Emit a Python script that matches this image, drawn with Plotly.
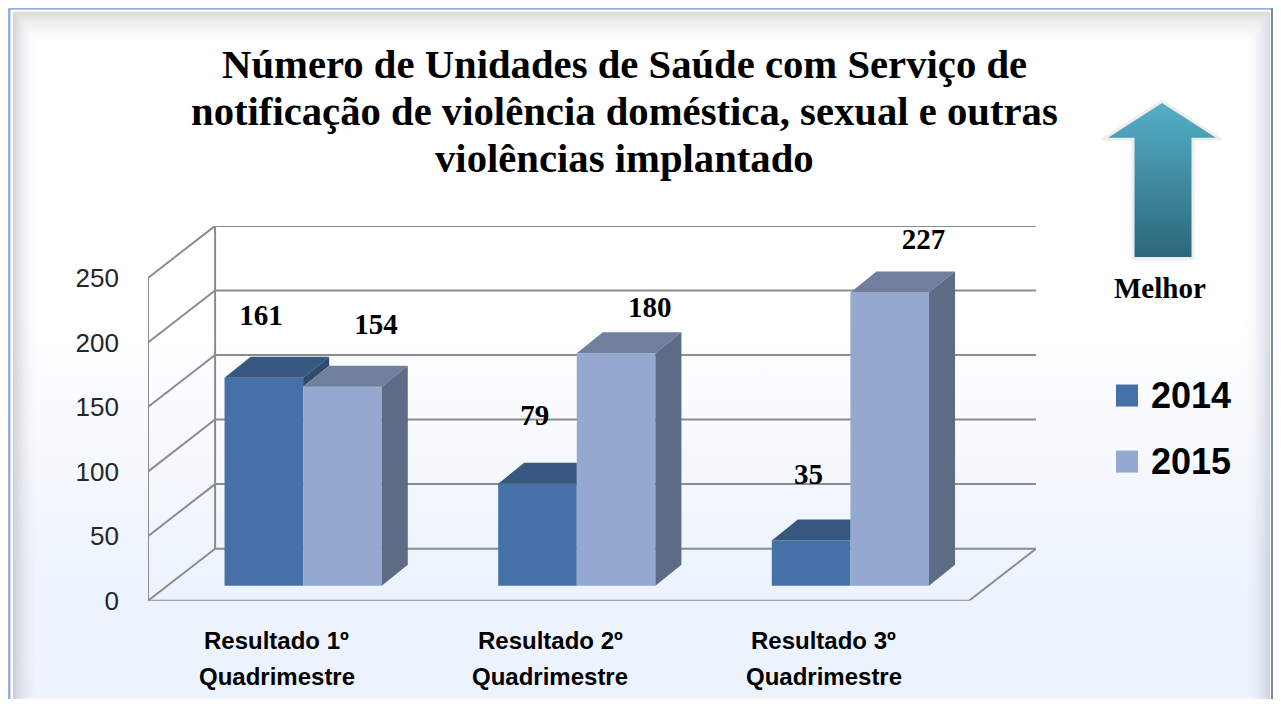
import plotly.graph_objects as go

# ---------------- data ----------------
title_lines = [
    "Número de Unidades de Saúde com Serviço de",
    "notificação de violência doméstica, sexual e outras",
    "violências implantado",
]
cat_line1 = ["Resultado 1º", "Resultado 2º", "Resultado 3º"]
cat_line2 = ["Quadrimestre", "Quadrimestre", "Quadrimestre"]
series_names = ["2014", "2015"]
values_2014 = [161, 79, 35]
values_2015 = [154, 180, 227]
y_ticks = [0, 50, 100, 150, 200, 250]
arrow_label = "Melhor"

# ---------------- style / geometry ----------------
PAGE_M = 8                       # default body margin of the html page
KY = 706 / 722                   # observed vertical scale of the photograph
W, H = 1281 - 2 * PAGE_M, 706
C14_FRONT, C14_TOP, C14_SIDE = "#4571A6", "#36587F", "#2F4C70"
C15_FRONT, C15_TOP, C15_SIDE = "#95A8CF", "#6F7F9D", "#5D6B85"
GRID = "#8C8C8C"

PX_L, PX_R = 148, 1036          # plot area (screen pixels)
PY_B, PY_T = 600, 225.5
UX = 273.3                      # px per category
YS = 1.29                       # px per value unit
DX, DY = 67 / UX, 52 / YS       # wall depth
BW = 78.5 / UX                  # bar width
SX, SY = 18.3 / UX, 15 / YS     # bar plane offset
BDX, BDY = 26 / UX, 21 / YS     # bar depth
NCAT = len(cat_line1)
YMAX = y_ticks[-1]
# data-label placement (offsets above the bar value, in value units / category units)
LBL14_DY = [58, 63, 61]
LBL15_DY = [58, 45, 51]
LBL14_DX = -0.01
LBL15_DX = 0.123


def fx(px):
    return (px - PAGE_M) / W


def fy(py):
    return 1 - (py / KY - PAGE_M) / H


fig = go.Figure()

# ---------- decoration subplot (screen-pixel space) ----------
fig.add_trace(go.Scatter(
    x=[13, 1270, 1270, 13, 13], y=[12, 12, 706, 706, 12], mode="lines",
    line=dict(width=0), fill="toself", hoverinfo="skip", showlegend=False,
    fillgradient=dict(type="vertical", start=0, stop=706,
                      colorscale=[[0, "#FFFFFF"], [0.44, "#FFFFFF"], [0.78, "#EEF4FD"],
                                  [0.965, "#EDF3FC"], [0.972, "#FDFEFF"], [1, "#FFFFFF"]]),
    xaxis="x", yaxis="y"))
# bevel shading
fig.add_trace(go.Scatter(
    x=[13, 1270, 1240, 42, 13], y=[12, 12, 46, 46, 12], mode="lines",
    line=dict(width=0), fill="toself", hoverinfo="skip", showlegend=False,
    fillgradient=dict(type="vertical", start=12, stop=46,
                      colorscale=[[0, "rgba(190,190,190,0.55)"], [1, "rgba(255,255,255,0)"]]),
    xaxis="x", yaxis="y"))
fig.add_trace(go.Scatter(
    x=[13, 40, 40, 13, 13], y=[12, 42, 690, 706, 12], mode="lines",
    line=dict(width=0), fill="toself", hoverinfo="skip", showlegend=False,
    fillgradient=dict(type="horizontal", start=13, stop=40,
                      colorscale=[[0, "rgba(170,175,185,0.55)"], [1, "rgba(255,255,255,0)"]]),
    xaxis="x", yaxis="y"))
fig.add_trace(go.Scatter(
    x=[1242, 1270, 1270, 1242, 1242], y=[42, 12, 706, 690, 42], mode="lines",
    line=dict(width=0), fill="toself", hoverinfo="skip", showlegend=False,
    fillgradient=dict(type="horizontal", start=1242, stop=1270,
                      colorscale=[[0, "rgba(255,255,255,0)"], [1, "rgba(170,180,200,0.5)"]]),
    xaxis="x", yaxis="y"))
# arrow "Melhor"
fig.add_trace(go.Scatter(
    x=[1162, 1221, 1193, 1193, 1133, 1133, 1103, 1162],
    y=[101, 139, 139, 258, 258, 139, 139, 101], mode="lines",
    line=dict(width=3, color="#EEEEEE"), fill="toself", hoverinfo="skip", showlegend=False,
    fillgradient=dict(type="vertical", start=101, stop=258,
                      colorscale=[[0, "#54AFC7"], [1, "#2A6477"]]),
    xaxis="x", yaxis="y"))

# ---------- chart subplot ----------
x14 = [i + SX - BW / 2 for i in range(NCAT)]
x15 = [i + SX + BW / 2 for i in range(NCAT)]
fig.add_trace(go.Bar(x=x14, y=values_2014, base=SY, width=BW, name=series_names[0],
                     marker=dict(color=C14_FRONT, line=dict(width=0)),
                     showlegend=False, xaxis="x2", yaxis="y2"))
fig.add_trace(go.Bar(x=x15, y=values_2015, base=SY, width=BW, name=series_names[1],
                     marker=dict(color=C15_FRONT, line=dict(width=0)),
                     showlegend=False, xaxis="x2", yaxis="y2"))


def poly_trace(xs, ys, color):
    return go.Scatter(x=xs, y=ys, mode="lines", fill="toself", fillcolor=color,
                      line=dict(width=0, color=color), hoverinfo="skip",
                      showlegend=False, xaxis="x2", yaxis="y2")


tx, ty, sx_, sy_ = [], [], [], []
tx15, ty15, sx15, sy15 = [], [], [], []
for i in range(NCAT):
    v1, v2 = values_2014[i], values_2015[i]
    x0 = i + SX - BW
    x1 = i + SX
    x2 = i + SX + BW
    Y1 = SY + v1
    Y2 = SY + v2
    # 2014 top, clipped by the 2015 front face
    if Y2 <= Y1:
        px = [x0, x1, x1 + BDX, x0 + BDX, x0]
        py = [Y1, Y1, Y1 + BDY, Y1 + BDY, Y1]
    elif Y2 < Y1 + BDY:
        xc = x1 + (Y2 - Y1) / BDY * BDX
        px = [x0, x1, x1, xc, x1 + BDX, x0 + BDX, x0]
        py = [Y1, Y1, Y2, Y2, Y1 + BDY, Y1 + BDY, Y1]
    else:
        px = [x0, x1, x1, x0 + BDX, x0]
        py = [Y1, Y1, Y1 + BDY, Y1 + BDY, Y1]
    tx += px + [None]
    ty += py + [None]
    # 2014 side, visible part above the 2015 bar
    if Y1 > Y2:
        sx_ += [x1, x1, x1 + BDX, x1 + BDX, x1, None]
        sy_ += [Y2, Y1, Y1 + BDY, Y2 + BDY, Y2, None]
    tx15 += [x1, x2, x2 + BDX, x1 + BDX, x1, None]
    ty15 += [Y2, Y2, Y2 + BDY, Y2 + BDY, Y2, None]
    sx15 += [x2, x2, x2 + BDX, x2 + BDX, x2, None]
    sy15 += [SY, Y2, Y2 + BDY, SY + BDY, SY, None]

fig.add_trace(poly_trace(tx, ty, C14_TOP))
if sx_:
    fig.add_trace(poly_trace(sx_, sy_, C14_SIDE))
fig.add_trace(poly_trace(tx15, ty15, C15_TOP))
fig.add_trace(poly_trace(sx15, sy15, C15_SIDE))

# data labels
LBL_FONT = dict(family="Liberation Serif", size=29, color="#000000", weight="bold")
fig.add_trace(go.Scatter(
    x=[x + LBL14_DX for x in x14], y=[v + d for v, d in zip(values_2014, LBL14_DY)],
    text=[str(v) for v in values_2014], mode="text", textfont=LBL_FONT,
    hoverinfo="skip", showlegend=False, xaxis="x2", yaxis="y2"))
fig.add_trace(go.Scatter(
    x=[x + LBL15_DX for x in x15], y=[v + d for v, d in zip(values_2015, LBL15_DY)],
    text=[str(v) for v in values_2015], mode="text", textfont=LBL_FONT,
    hoverinfo="skip", showlegend=False, xaxis="x2", yaxis="y2"))

# walls / gridlines
shapes = []
gl = dict(color=GRID, width=2)
for v in y_ticks:
    shapes.append(dict(type="line", xref="x2", yref="y2", x0=-0.5, y0=v, x1=-0.5 + DX, y1=v + DY,
                       line=gl, layer="below"))
    shapes.append(dict(type="line", xref="x2", yref="y2", x0=-0.5 + DX, y0=v + DY,
                       x1=NCAT - 0.5 + DX, y1=v + DY, line=gl, layer="below"))
shapes.append(dict(type="line", xref="x2", yref="y2", x0=-0.5, y0=0, x1=-0.5, y1=YMAX,
                   line=gl, layer="below"))
shapes.append(dict(type="line", xref="x2", yref="y2", x0=-0.5 + DX, y0=DY, x1=-0.5 + DX, y1=YMAX + DY,
                   line=gl, layer="below"))
shapes.append(dict(type="line", xref="x2", yref="y2", x0=-0.5, y0=0, x1=NCAT - 0.5, y1=0,
                   line=gl, layer="below"))
shapes.append(dict(type="line", xref="x2", yref="y2", x0=NCAT - 0.5, y0=0, x1=NCAT - 0.5 + DX, y1=DY,
                   line=gl, layer="below"))

# outer frame
shapes.append(dict(type="line", xref="paper", yref="paper", x0=fx(9), y0=fy(8), x1=fx(1274), y1=fy(8),
                   line=dict(color="#95B0E0", width=3), layer="above"))
shapes.append(dict(type="line", xref="paper", yref="paper", x0=fx(9), y0=fy(8), x1=fx(9), y1=0,
                   line=dict(color="#95B0E0", width=3), layer="above"))
shapes.append(dict(type="line", xref="paper", yref="paper", x0=fx(1272.5), y0=fy(8), x1=fx(1272.5), y1=0,
                   line=dict(color="#7C8AA0", width=3), layer="above"))
shapes.append(dict(type="line", xref="paper", yref="paper", x0=fx(13), y0=fy(12), x1=fx(1269), y1=fy(12),
                   line=dict(color="#D9D9D9", width=1), layer="above"))

# legend
leg_colors = [C14_FRONT, C15_FRONT]
leg_y = [395, 461]
annotations = []
for name, col, yy in zip(series_names, leg_colors, leg_y):
    shapes.append(dict(type="rect", xref="paper", yref="paper", x0=fx(1116), x1=fx(1138),
                       y0=fy(yy + 11), y1=fy(yy - 11), fillcolor=col, line=dict(width=0), layer="above"))
    annotations.append(dict(text=name, xref="paper", yref="paper", x=fx(1149), y=fy(yy),
                            xanchor="left", yanchor="middle", showarrow=False,
                            font=dict(family="Liberation Sans", size=36, color="#000000", weight="bold")))

# title
for line, yy in zip(title_lines, [64, 111, 158]):
    annotations.append(dict(text=line, xref="paper", yref="paper", x=fx(624), y=fy(yy),
                            xanchor="center", yanchor="middle", showarrow=False,
                            font=dict(family="Liberation Serif", size=40.7, color="#000000", weight="bold")))
annotations.append(dict(text=arrow_label, xref="paper", yref="paper", x=fx(1160), y=fy(288),
                        xanchor="center", yanchor="middle", showarrow=False,
                        font=dict(family="Liberation Serif", size=29, color="#000000", weight="bold")))

# category labels
for i in range(NCAT):
    for txt, yy in ((cat_line1[i], 640), (cat_line2[i], 676)):
        annotations.append(dict(text=txt, xref="x2", yref="paper", x=i - 0.03, y=fy(yy),
                                xanchor="center", yanchor="middle", showarrow=False,
                                font=dict(family="Liberation Sans", size=24,
                                          color="#000000", weight="bold")))

fig.update_layout(
    width=W, height=H, margin=dict(l=0, r=0, t=0, b=0),
    paper_bgcolor="#FFFFFF", plot_bgcolor="rgba(0,0,0,0)",
    barmode="overlay", showlegend=False,
    shapes=shapes, annotations=annotations,
    xaxis=dict(domain=[0, 1], range=[PAGE_M, PAGE_M + W], visible=False, fixedrange=True),
    yaxis=dict(domain=[0, 1], range=[(PAGE_M + H) * KY, PAGE_M * KY], visible=False, fixedrange=True),
    xaxis2=dict(domain=[fx(PX_L), fx(PX_R)], range=[-0.5, NCAT - 0.5 + DX], anchor="y2",
                showgrid=False, zeroline=False, showline=False, showticklabels=False, ticks=""),
    yaxis2=dict(domain=[fy(PY_B), fy(PY_T)], range=[0, YMAX + DY], anchor="x2",
                tickvals=y_ticks, showgrid=False, zeroline=False, showline=False, ticks="",
                ticklabelstandoff=28,
                tickfont=dict(family="Liberation Sans", size=26, color="#262626")),
)

fig.write_html("out.html")
